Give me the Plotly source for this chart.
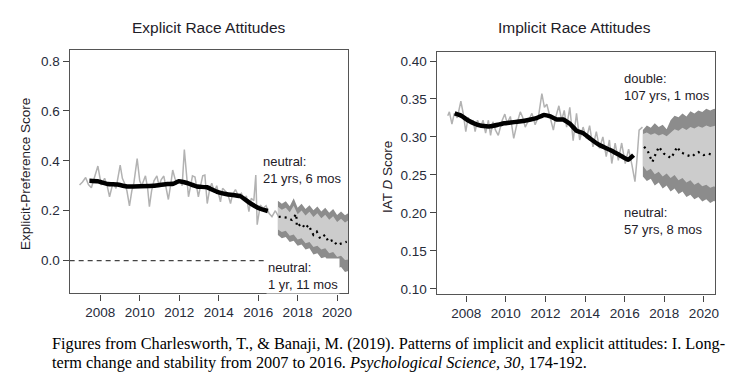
import plotly.graph_objects as go

W, H = 744, 375

# ---------------- Explicit (left) ----------------
exp_raw_x = [2006.95, 2007.10, 2007.26, 2007.40, 2007.55, 2007.70, 2007.88, 2008.05, 2008.22, 2008.35,
             2008.47, 2008.64, 2008.80, 2009.01, 2009.12, 2009.23, 2009.35, 2009.48, 2009.60, 2009.70,
             2009.87, 2010.00, 2010.10, 2010.29, 2010.40, 2010.49, 2010.60, 2010.72, 2010.87, 2010.98,
             2011.09, 2011.22, 2011.33, 2011.45, 2011.56, 2011.67, 2011.78, 2011.90, 2012.05, 2012.15,
             2012.26, 2012.37, 2012.47, 2012.58, 2012.67, 2012.80, 2012.97, 2013.08, 2013.19, 2013.30,
             2013.42, 2013.55, 2013.65, 2013.78, 2013.90, 2014.09, 2014.20, 2014.32, 2014.45, 2014.60,
             2014.70, 2014.85, 2015.00, 2015.15, 2015.30, 2015.40, 2015.53, 2015.65, 2015.78, 2015.88,
             2015.95, 2016.11, 2016.25, 2016.40, 2016.55, 2016.70, 2016.87, 2017.04]
exp_raw_y = [0.303, 0.315, 0.333, 0.305, 0.292, 0.330, 0.379, 0.303, 0.330, 0.300,
             0.256, 0.310, 0.290, 0.383, 0.330, 0.310, 0.280, 0.219, 0.280, 0.310,
             0.409, 0.320, 0.300, 0.340, 0.290, 0.216, 0.280, 0.320, 0.340, 0.300,
             0.325, 0.339, 0.300, 0.245, 0.300, 0.363, 0.330, 0.310, 0.320, 0.300,
             0.445, 0.330, 0.256, 0.300, 0.340, 0.335, 0.256, 0.300, 0.340, 0.343,
             0.229, 0.290, 0.310, 0.275, 0.300, 0.236, 0.290, 0.280, 0.270, 0.229,
             0.265, 0.285, 0.260, 0.270, 0.240, 0.260, 0.196, 0.250, 0.240, 0.343,
             0.144, 0.223, 0.210, 0.220, 0.190, 0.176, 0.200, 0.175]

exp_smooth_x = [2007.45, 2007.87, 2008.37, 2008.87, 2009.38, 2010.05, 2010.72, 2011.40, 2011.70, 2011.98,
                2012.40, 2012.90, 2013.41, 2013.92, 2014.42, 2015.10, 2015.60, 2016.10, 2016.49]
exp_smooth_y = [0.320, 0.318, 0.307, 0.305, 0.297, 0.298, 0.300, 0.307, 0.308, 0.318,
                0.311, 0.297, 0.294, 0.276, 0.266, 0.258, 0.230, 0.208, 0.199]

exp_fc_x = [2017.04, 2017.46, 2017.71, 2017.93, 2017.96, 2018.21, 2018.38, 2018.55, 2018.80, 2018.97,
            2019.14, 2019.39, 2019.56, 2019.81, 2019.98, 2020.23, 2020.49]
exp_fc_y = [0.176, 0.172, 0.163, 0.187, 0.136, 0.149, 0.129, 0.143, 0.103, 0.116,
            0.089, 0.103, 0.076, 0.083, 0.063, 0.069, 0.076]

exp_band_x = [2017.0, 2017.2, 2017.4, 2017.6, 2017.8, 2018.0, 2018.2, 2018.4, 2018.6, 2018.8,
              2019.0, 2019.2, 2019.4, 2019.6, 2019.8, 2020.0, 2020.2, 2020.4, 2020.6]
exp_outer_hi = [0.240, 0.228, 0.238, 0.218, 0.250, 0.212, 0.228, 0.207, 0.222, 0.202,
                0.217, 0.197, 0.212, 0.192, 0.207, 0.183, 0.197, 0.182, 0.192]
exp_inner_hi = [0.216, 0.204, 0.212, 0.194, 0.220, 0.186, 0.201, 0.181, 0.196, 0.175,
                0.190, 0.170, 0.184, 0.164, 0.178, 0.155, 0.168, 0.153, 0.163]
exp_inner_lo = [0.125, 0.115, 0.120, 0.100, 0.105, 0.085, 0.090, 0.070, 0.075, 0.055,
                0.060, 0.045, 0.050, 0.030, 0.035, 0.015, 0.020, 0.003, 0.005]
exp_outer_lo = [0.103, 0.090, 0.095, 0.075, 0.080, 0.060, 0.065, 0.045, 0.050, 0.025,
                0.030, 0.010, 0.015, -0.010, -0.005, -0.030, -0.025, -0.045, -0.040]

# ---------------- Implicit (right) ----------------
imp_raw_x = [2007.07, 2007.15, 2007.28, 2007.40, 2007.55, 2007.73, 2007.85, 2007.98, 2008.10, 2008.22,
             2008.35, 2008.45, 2008.57, 2008.73, 2008.85, 2008.98, 2009.12, 2009.23, 2009.35, 2009.48,
             2009.62, 2009.82, 2009.95, 2010.07, 2010.23, 2010.40, 2010.57, 2010.73, 2010.85, 2010.98,
             2011.15, 2011.32, 2011.48, 2011.65, 2011.82, 2011.95, 2012.07, 2012.23, 2012.40, 2012.52,
             2012.68, 2012.82, 2012.95, 2013.07, 2013.23, 2013.40, 2013.57, 2013.73, 2013.90, 2014.07,
             2014.23, 2014.40, 2014.57, 2014.73, 2014.90, 2015.07, 2015.23, 2015.35, 2015.52, 2015.68,
             2015.85, 2016.03, 2016.20, 2016.37, 2016.52, 2016.62, 2016.73, 2016.90]
imp_raw_y = [0.328, 0.333, 0.317, 0.331, 0.325, 0.347, 0.331, 0.307, 0.326, 0.317,
             0.322, 0.307, 0.322, 0.313, 0.322, 0.305, 0.322, 0.302, 0.320, 0.309,
             0.302, 0.322, 0.330, 0.318, 0.327, 0.298, 0.318, 0.333, 0.326, 0.313,
             0.322, 0.331, 0.316, 0.327, 0.357, 0.339, 0.343, 0.326, 0.309, 0.326,
             0.341, 0.322, 0.335, 0.313, 0.339, 0.295, 0.331, 0.296, 0.313, 0.298,
             0.315, 0.287, 0.307, 0.285, 0.300, 0.274, 0.296, 0.265, 0.292, 0.269,
             0.292, 0.265, 0.284, 0.263, 0.241, 0.270, 0.309, 0.313]

imp_smooth_x = [2007.42, 2007.75, 2008.08, 2008.58, 2009.00, 2009.25, 2009.60, 2009.92, 2010.25, 2010.58,
                2011.08, 2011.58, 2011.92, 2012.25, 2012.58, 2012.90, 2013.25, 2013.58, 2013.90, 2014.25,
                2014.75, 2015.25, 2015.75, 2016.17, 2016.28, 2016.45]
imp_smooth_y = [0.331, 0.328, 0.322, 0.316, 0.314, 0.314, 0.316, 0.318, 0.319, 0.320,
                0.322, 0.325, 0.329, 0.327, 0.323, 0.323, 0.317, 0.308, 0.305, 0.298,
                0.289, 0.283, 0.276, 0.270, 0.272, 0.276]

imp_fc_x = [2016.98, 2017.15, 2017.28, 2017.40, 2017.57, 2017.73, 2017.85, 2017.98, 2018.15, 2018.32,
            2018.48, 2018.65, 2018.82, 2018.98, 2019.15, 2019.40, 2019.57, 2019.73, 2019.98, 2020.23,
            2020.48]
imp_fc_y = [0.287, 0.2825, 0.274, 0.267, 0.278, 0.287, 0.2825, 0.278, 0.276, 0.272,
            0.278, 0.287, 0.280, 0.278, 0.276, 0.274, 0.278, 0.280, 0.276, 0.278,
            0.276]

imp_band_x = [2016.92, 2017.12, 2017.32, 2017.52, 2017.72, 2017.92, 2018.12, 2018.32, 2018.52, 2018.72,
              2018.92, 2019.12, 2019.32, 2019.52, 2019.72, 2019.92, 2020.12, 2020.32, 2020.52, 2020.62]
imp_outer_hi = [0.309, 0.315, 0.312, 0.318, 0.313, 0.316, 0.310, 0.322, 0.328, 0.326,
                0.331, 0.327, 0.334, 0.331, 0.335, 0.333, 0.337, 0.335, 0.337, 0.336]
imp_inner_hi = [0.304, 0.306, 0.303, 0.305, 0.302, 0.304, 0.301, 0.306, 0.310, 0.308,
                0.312, 0.309, 0.313, 0.311, 0.314, 0.312, 0.315, 0.313, 0.315, 0.315]
imp_inner_lo = [0.262, 0.255, 0.258, 0.251, 0.254, 0.248, 0.252, 0.246, 0.250, 0.243,
                0.246, 0.240, 0.243, 0.237, 0.240, 0.235, 0.237, 0.233, 0.235, 0.232]
imp_outer_lo = [0.248, 0.242, 0.245, 0.236, 0.240, 0.232, 0.236, 0.228, 0.232, 0.225,
                0.228, 0.221, 0.224, 0.218, 0.221, 0.215, 0.218, 0.213, 0.216, 0.213]

year_ticks = [2008, 2010, 2012, 2014, 2016, 2018, 2020]
exp_ticks = [0.0, 0.2, 0.4, 0.6, 0.8]
exp_tick_text = ["0.0", "0.2", "0.4", "0.6", "0.8"]
imp_ticks = [0.10, 0.15, 0.20, 0.25, 0.30, 0.35, 0.40]
imp_tick_text = ["0.10", "0.15", "0.20", "0.25", "0.30", "0.35", "0.40"]

SANS = "Liberation Sans, Arial, Helvetica, sans-serif"
SERIF = "Liberation Serif, Times New Roman, serif"
TXT = "#1e2028"
TICKC = "#262b3a"
DARK = "#8c8c8c"
LIGHT = "#cccccc"
RAW = "#b2b2b2"

fig = go.Figure()


def band(xs, lo, hi, color, xa, ya):
    fig.add_trace(go.Scatter(x=xs, y=lo, mode="lines", line=dict(width=0, color=color),
                             xaxis=xa, yaxis=ya, showlegend=False, hoverinfo="skip"))
    fig.add_trace(go.Scatter(x=xs, y=hi, mode="lines", line=dict(width=0, color=color),
                             fill="tonexty", fillcolor=color,
                             xaxis=xa, yaxis=ya, showlegend=False, hoverinfo="skip"))


for (xa, ya, bx, olo, ohi, ilo, ihi, rx, ry, sx, sy, fx, fy) in [
    ("x", "y", exp_band_x, exp_outer_lo, exp_outer_hi, exp_inner_lo, exp_inner_hi,
     exp_raw_x, exp_raw_y, exp_smooth_x, exp_smooth_y, exp_fc_x, exp_fc_y),
    ("x2", "y2", imp_band_x, imp_outer_lo, imp_outer_hi, imp_inner_lo, imp_inner_hi,
     imp_raw_x, imp_raw_y, imp_smooth_x, imp_smooth_y, imp_fc_x, imp_fc_y),
]:
    band(bx, olo, ohi, DARK, xa, ya)
    band(bx, ilo, ihi, LIGHT, xa, ya)
    fig.add_trace(go.Scatter(x=rx, y=ry, mode="lines", line=dict(color=RAW, width=1.5),
                             xaxis=xa, yaxis=ya, showlegend=False))
    fig.add_trace(go.Scatter(x=sx, y=sy, mode="lines",
                             line=dict(color="black", width=4.5, shape="spline", smoothing=0.3),
                             xaxis=xa, yaxis=ya, showlegend=False))
    fig.add_trace(go.Scatter(x=fx, y=fy, mode="lines", line=dict(color="black", width=2.2, dash="2px,4px"),
                             xaxis=xa, yaxis=ya, showlegend=False))

# zero reference line (left panel)
fig.add_shape(type="line", xref="x domain", yref="y", x0=0, x1=1, y0=0, y1=0,
              line=dict(color="#444", width=1.2, dash="5px,4px"), layer="below")


def px(x):
    return x / W


def py(y):
    return 1 - y / H


axis_common = dict(showgrid=False, zeroline=False, showline=True, mirror=True,
                   linecolor="#555", linewidth=1.3, ticks="outside", ticklen=6,
                   tickwidth=1.2, tickcolor="#444",
                   tickfont=dict(family=SANS, size=13.5, color=TICKC))

fig.update_layout(
    width=W, height=H, margin=dict(l=0, r=0, t=0, b=0),
    paper_bgcolor="white", plot_bgcolor="white", showlegend=False,
    xaxis=dict(domain=[px(62), px(342)], range=[2006.45, 2020.56], tickvals=year_ticks,
               anchor="y", **axis_common),
    yaxis=dict(domain=[py(287), py(42)], range=[-0.1315, 0.845], tickvals=exp_ticks,
               ticktext=exp_tick_text, anchor="x", **axis_common),
    xaxis2=dict(domain=[px(431), px(711)], range=[2006.51, 2020.57], tickvals=year_ticks,
                anchor="y2", **axis_common),
    yaxis2=dict(domain=[py(288), py(44)], range=[0.0925, 0.4122], tickvals=imp_ticks,
                ticktext=imp_tick_text, anchor="x2", **axis_common),
)

ann = []


def text(x, y, s, size=13, family=SANS, color=TXT, xanchor="left", yanchor="middle",
         angle=0, bg=None):
    d = dict(x=px(x), y=py(y), xref="paper", yref="paper", text=s, showarrow=False,
             xanchor=xanchor, yanchor=yanchor, textangle=angle, align="left",
             font=dict(family=family, size=size, color=color))
    if bg:
        d["bgcolor"] = bg
    ann.append(d)


text(202, 20, "Explicit Race Attitudes", size=15.5, xanchor="center")
text(570, 20, "Implicit Race Attitudes", size=15.5, xanchor="center")
text(17, 167, "Explicit-Preference Score", size=13.5, xanchor="center", angle=-90)
text(381, 170, "IAT <i>D</i> Score", size=13.5, xanchor="center", angle=-90)

text(254, 162.5, "neutral:<br>21 yrs, 6 mos")
text(259, 269, "neutral:<br>1 yr, 11 mos", bg="white")
text(617, 79, "double:<br>107 yrs, 1 mos")
text(617, 214, "neutral:<br>57 yrs, 8 mos")

text(42, 337, "Figures from Charlesworth, T., &amp; Banaji, M. (2019). Patterns of implicit and explicit attitudes: I. Long-",
     size=16.3, family=SERIF, color="black")
text(42, 356, "term change and stability from 2007 to 2016. <i>Psychological Science, 30,</i> 174-192.",
     size=16.3, family=SERIF, color="black")

fig.update_layout(annotations=ann)
fig.write_html("out.html")
